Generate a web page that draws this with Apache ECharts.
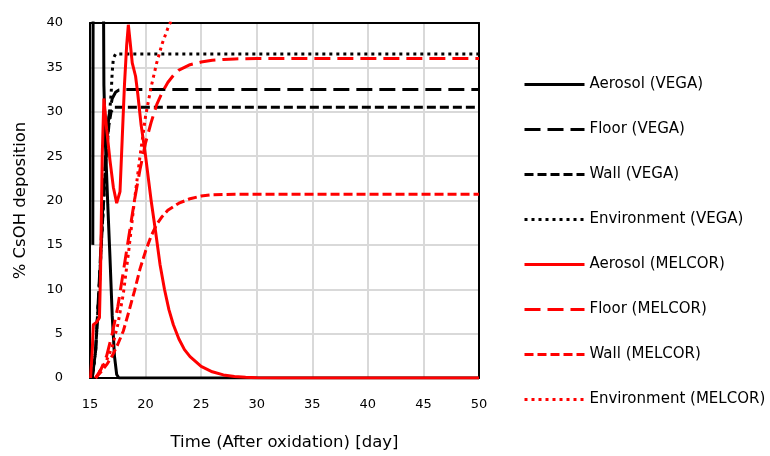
<!DOCTYPE html>
<html>
<head>
<meta charset="utf-8">
<script src="https://cdn.jsdelivr.net/npm/echarts@6/dist/echarts.min.js"></script>
<style>
  html, body { margin: 0; padding: 0; background: #fff; }
  #chart { width: 770px; height: 456px; }
</style>
</head>
<body>
<div id="chart"></div>
<script>
// Time axis ticks (days after oxidation) and deposition ticks (%)
const xTicks = [15, 20, 25, 30, 35, 40, 45, 50];
const yTicks = [0, 5, 10, 15, 20, 25, 30, 35, 40];

// VEGA results
const vegaAerosolT = [15.25, 15.3, 16.15, 16.25, 16.4, 16.6, 16.8, 17.0, 17.2, 17.4, 17.6, 50];
const vegaAerosolV = [15, 60, 60, 33, 26, 19.5, 13.5, 7, 2.5, 0.4, 0, 0];

const vegaFloorT = [15.2, 15.5, 15.8, 16.1, 16.4, 16.7, 17.0, 17.3, 17.6, 18.0, 50];
const vegaFloorV = [0, 3, 10, 18, 25, 29.5, 31.5, 32.2, 32.45, 32.5, 32.5];

const vegaWallT = [15.2, 15.5, 15.8, 16.1, 16.4, 16.7, 16.9, 17.2, 50];
const vegaWallV = [0, 3, 9.5, 17, 24, 28.5, 30, 30.5, 30.5];

const vegaEnvT = [15.2, 15.5, 15.8, 16.1, 16.4, 16.7, 16.9, 17.0, 17.1, 17.3, 50];
const vegaEnvV = [0, 3, 9.5, 17, 24, 29, 32, 34.5, 36, 36.5, 36.5];

// MELCOR results
const melAerosolT = [15.05, 15.2, 15.3, 15.6, 15.85, 15.95, 16.1, 16.25, 16.5, 16.8, 17.1, 17.4, 17.55, 17.7, 17.9, 18.1, 18.3, 18.45, 18.6, 18.8, 19.1, 19.3, 19.6, 20.0, 20.5, 20.9, 21.3, 21.7, 22.1, 22.5, 23.0, 23.5, 24.0, 25.0, 26.0, 27.0, 28.0, 29.0, 30.0, 32.0, 50];
const melAerosolV = [0, 3, 6, 6.3, 6.8, 12, 25, 31.5, 28, 24.5, 21.5, 19.7, 19.5, 21, 27, 33, 37.5, 39.8, 38, 35.5, 34, 32, 28.5, 25, 20, 16.5, 12.8, 10, 7.7, 6, 4.4, 3.2, 2.4, 1.3, 0.7, 0.35, 0.17, 0.08, 0.03, 0, 0];

const melFloorT = [15.5, 16.0, 16.5, 17.0, 17.5, 18.0, 18.5, 19.0, 19.5, 20.0, 20.5, 21.0, 21.5, 22.0, 22.5, 23.0, 24.0, 25.0, 26.0, 27.0, 28.0, 30.0, 50];
const melFloorV = [0, 1, 2.5, 5, 8, 12, 16, 20, 23.5, 26.5, 28.8, 30.8, 32.2, 33.3, 34.1, 34.7, 35.3, 35.6, 35.8, 35.9, 35.95, 36, 36];

const melWallT = [15.5, 16.0, 16.5, 17.0, 17.5, 18.0, 18.5, 19.0, 19.5, 20.0, 20.5, 21.0, 21.5, 22.0, 23.0, 24.0, 25.0, 26.0, 28.0, 50];
const melWallV = [0, 0.7, 1.5, 2.5, 3.8, 5.3, 7.5, 9.8, 12.3, 14.3, 16.0, 17.3, 18.2, 18.9, 19.7, 20.2, 20.5, 20.65, 20.7, 20.7];

const melEnvT = [15.5, 16.0, 16.5, 17.0, 17.5, 18.0, 18.5, 19.0, 19.5, 20.0, 20.5, 21.0, 21.5, 22.0, 22.5, 23.0];
const melEnvV = [0, 1, 2, 3.5, 6, 9.5, 14.5, 20, 25, 29.5, 32.8, 35.5, 37.7, 39.4, 40.8, 41.8];

const FONT = 'DejaVu Sans';
const LONG_DASH = [16, 7];
const SHORT_DASH = [9, 4];
const DOTS = [3, 4];

function pairs(t, v) {
  return t.map((x, i) => [x, v[i]]);
}

function lineSeries(name, t, v, color, dash) {
  return {
    name: name,
    type: 'line',
    data: pairs(t, v),
    symbol: 'none',
    showSymbol: false,
    clip: true,
    smooth: false,
    lineStyle: { color: color, width: 3, type: dash, cap: 'butt' },
    itemStyle: { color: color },
    emphasis: { disabled: true },
    animation: false
  };
}

const series = [
  lineSeries('Aerosol (VEGA)', vegaAerosolT, vegaAerosolV, '#000000', 'solid'),
  lineSeries('Floor (VEGA)', vegaFloorT, vegaFloorV, '#000000', LONG_DASH),
  lineSeries('Wall (VEGA)', vegaWallT, vegaWallV, '#000000', SHORT_DASH),
  lineSeries('Environment (VEGA)', vegaEnvT, vegaEnvV, '#000000', DOTS),
  lineSeries('Aerosol (MELCOR)', melAerosolT, melAerosolV, '#ff0000', 'solid'),
  lineSeries('Floor (MELCOR)', melFloorT, melFloorV, '#ff0000', LONG_DASH),
  lineSeries('Wall (MELCOR)', melWallT, melWallV, '#ff0000', SHORT_DASH),
  lineSeries('Environment (MELCOR)', melEnvT, melEnvV, '#ff0000', DOTS)
];

// Plain frame axes closing the plot box on the top and right sides
function frameAxis(position, base) {
  return Object.assign({}, base, {
    position: position,
    name: '',
    axisLine: { show: true, onZero: false, lineStyle: { color: '#000', width: 2 } },
    axisTick: { show: false },
    axisLabel: { show: false },
    splitLine: { show: false }
  });
}

const xBase = {
  type: 'value',
  min: xTicks[0], max: xTicks[xTicks.length - 1], interval: xTicks[1] - xTicks[0]
};
const yBase = {
  type: 'value',
  min: yTicks[0], max: yTicks[yTicks.length - 1], interval: yTicks[1] - yTicks[0]
};

const chart = echarts.init(document.getElementById('chart'), null, { renderer: 'canvas' });
chart.setOption({
  animation: false,
  backgroundColor: '#ffffff',
  textStyle: { fontFamily: FONT, color: '#000' },
  grid: { left: 90, right: 291, top: 23, bottom: 74 },
  legend: {
    orient: 'vertical',
    left: 518, top: 72,
    itemWidth: 60, itemHeight: 14, itemGap: 30,
    itemStyle: { opacity: 0 },
    lineStyle: { width: 3 },
    textStyle: { fontFamily: FONT, fontSize: 15, color: '#000' },
    data: series.map(s => s.name),
    selectedMode: false
  },
  xAxis: [
    Object.assign({}, xBase, {
      position: 'bottom',
      name: 'Time (After oxidation) [day]',
      nameLocation: 'middle', nameGap: 56,
      nameTextStyle: { fontFamily: FONT, fontSize: 16.5, color: '#000' },
      axisLine: { show: true, onZero: false, lineStyle: { color: '#000', width: 2 } },
      axisTick: { show: false },
      axisLabel: { color: '#000', fontSize: 13, margin: 20, fontFamily: FONT },
      splitLine: { show: true, lineStyle: { color: '#d9d9d9', width: 2 } }
    }),
    frameAxis('top', xBase)
  ],
  yAxis: [
    Object.assign({}, yBase, {
      position: 'left',
      name: '% CsOH deposition',
      nameLocation: 'middle', nameGap: 61, nameRotate: 90,
      nameTextStyle: { fontFamily: FONT, fontSize: 16.5, color: '#000' },
      axisLine: { show: true, onZero: false, lineStyle: { color: '#000', width: 2 } },
      axisTick: { show: false },
      axisLabel: { color: '#000', fontSize: 13, margin: 27, fontFamily: FONT },
      splitLine: { show: true, lineStyle: { color: '#d9d9d9', width: 2 } }
    }),
    frameAxis('right', yBase)
  ],
  series: series
});
</script>
</body>
</html>
